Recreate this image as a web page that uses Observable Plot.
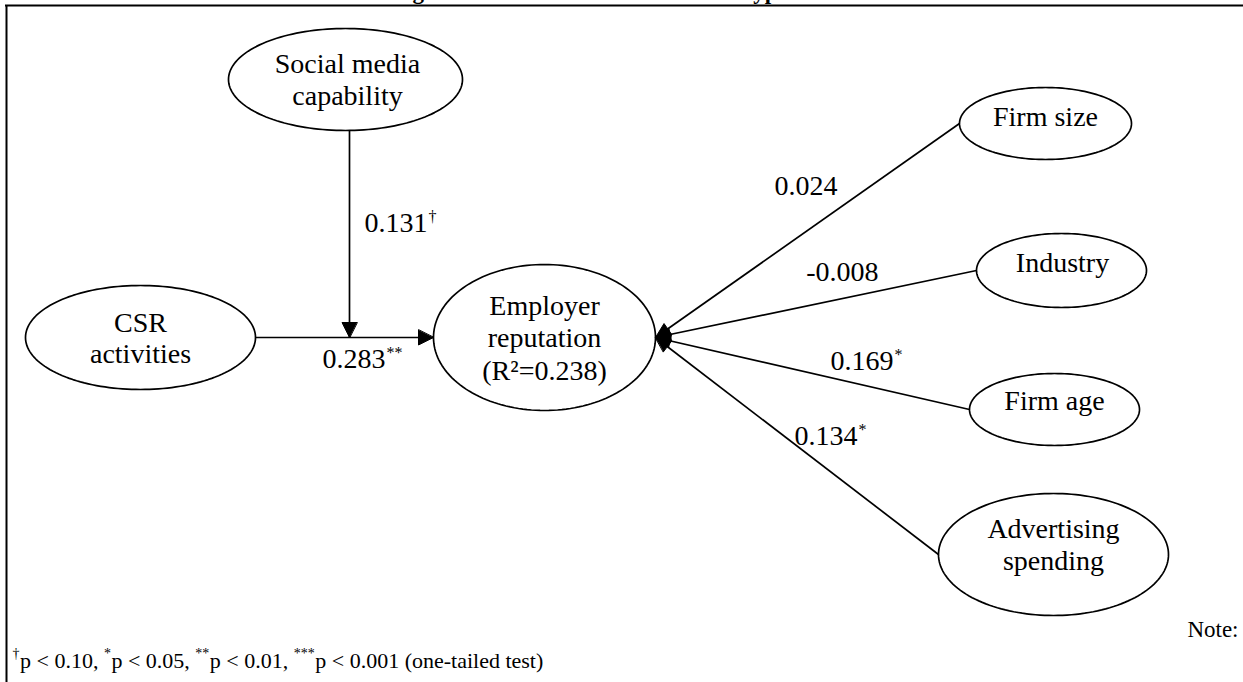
<!DOCTYPE html>
<html>
<head>
<meta charset="utf-8">
<script src="https://cdn.jsdelivr.net/npm/d3@7"></script>
<script src="https://cdn.jsdelivr.net/npm/@observablehq/plot@0.6"></script>
<style>
  body { margin: 0; background: #fff; }
  #chart svg { display: block; background: #fff; }
</style>
</head>
<body>
<div id="chart"></div>
<script>
// ---------- DATA ----------
const title = "Figure 2. Results of the Model and Hypotheses";
const nodeNames = ["Social media capability", "CSR activities", "Employer reputation",
                   "Firm size", "Industry", "Firm age", "Advertising spending"];
const nodeLabelLines = [["Social media", "capability"], ["CSR", "activities"],
                        ["Employer", "reputation", "(R²=0.238)"], ["Firm size"], ["Industry"],
                        ["Firm age"], ["Advertising", "spending"]];
const pathNames = ["moderation", "CSR activities", "Firm size", "Industry", "Firm age", "Advertising spending"];
const pathCoefficients = ["0.131", "0.283", "0.024", "-0.008", "0.169", "0.134"];
const pathSignificance = ["†", "**", "", "", "*", "*"];
const sigSymbols = ["†", "*", "**", "***"];
const sigLevels = ["0.10", "0.05", "0.01", "0.001"];
const testNote = "(one-tailed test)";
const noteLabel = "Note:";

// ---------- LAYOUT (positions / sizes) ----------
const FONT = "Liberation Serif, Times New Roman, serif";
const nodeLayout = {
  "Social media capability": {cx: 345, cy: 79, rx: 117, ry: 51, x: 347, baselines: [72, 104]},
  "CSR activities":          {cx: 140, cy: 337, rx: 115, ry: 52, x: 140, baselines: [331, 362]},
  "Employer reputation":     {cx: 544, cy: 337, rx: 111, ry: 73, x: 544, baselines: [314, 346, 379]},
  "Firm size":               {cx: 1045, cy: 123, rx: 86, ry: 36, x: 1045, baselines: [125]},
  "Industry":                {cx: 1061, cy: 270, rx: 85, ry: 37, x: 1062, baselines: [271]},
  "Firm age":                {cx: 1054, cy: 409, rx: 85, ry: 36, x: 1054, baselines: [409]},
  "Advertising spending":    {cx: 1053, cy: 554, rx: 115, ry: 61, x: 1053, baselines: [537, 569]}
};
const modX = 349;            // x of the moderating arrow
const labelLayout = {        // end of number (x) and baseline (y)
  "moderation": [427, 231],
  "CSR activities": [385, 367],
  "Firm size": [837, 194],
  "Industry": [878, 280],
  "Firm age": [893, 369],
  "Advertising spending": [857, 444]
};
const frame = {left: 6, top: 5, right: 1243, bottom: 682};
const W = 1243, H = 682;

// ---------- GEOMETRY ----------
const N = (name) => nodeLayout[name];
const emp = N("Employer reputation");
const tip = {x: emp.cx + emp.rx, y: emp.cy};

const ellipsePts = nodeNames.flatMap(name => {
  const n = N(name);
  return d3.range(0, 160).map(i => {
    const t = i / 160 * 2 * Math.PI;
    return {name, x: n.cx + n.rx * Math.cos(t), y: n.cy + n.ry * Math.sin(t)};
  });
});

const links = pathNames.map(name => {
  if (name === "moderation") {
    const s = N("Social media capability");
    return {name, x1: modX, y1: s.cy + s.ry, x2: modX, y2: N("CSR activities").cy};
  }
  if (name === "CSR activities") {
    const c = N(name);
    return {name, x1: c.cx + c.rx, y1: c.cy, x2: emp.cx - emp.rx, y2: emp.cy};
  }
  const c = N(name);
  return {name, x1: c.cx - c.rx, y1: c.cy, x2: tip.x, y2: tip.y};
});

const HEAD_L = 15, HEAD_W = 6.5;
const heads = links.flatMap(l => {
  const dx = l.x2 - l.x1, dy = l.y2 - l.y1, len = Math.hypot(dx, dy);
  const ux = dx / len, uy = dy / len;
  const bx = l.x2 - HEAD_L * ux, by = l.y2 - HEAD_L * uy;
  const w = l.name === "moderation" || l.name === "CSR activities" ? 7.5 : HEAD_W;
  return [
    {id: l.name, x: l.x2, y: l.y2},
    {id: l.name, x: bx - w * uy, y: by + w * ux},
    {id: l.name, x: bx + w * uy, y: by - w * ux}
  ];
});

const nodeTexts = nodeNames.flatMap((name, i) =>
  nodeLabelLines[i].map((line, j) => ({text: line, x: N(name).x, y: N(name).baselines[j]})));

const coefTexts = pathNames.map((name, i) => ({
  text: pathCoefficients[i], sup: pathSignificance[i],
  x: labelLayout[name][0], y: labelLayout[name][1]
}));

// text measurement
const ctx = document.createElement("canvas").getContext("2d");

// title: place so that the "g" of "Figure" starts at x = 412
const TITLE_SIZE = 23;
ctx.font = `bold ${TITLE_SIZE}px ${FONT}`;
const titleX = 412 - ctx.measureText("Fi").width;

// footnote segments
const FOOT_SIZE = 22, SUP_SIZE = 14;
const footMain = [], footSup = [];
let cursor = 12;
const footBaseline = 667;
sigSymbols.forEach((sym, i) => {
  ctx.font = `${SUP_SIZE}px ${FONT}`;
  footSup.push({text: sym, x: cursor, y: footBaseline - 10});
  cursor += ctx.measureText(sym).width + 0.5;
  const t = "p < " + sigLevels[i] + (i < sigSymbols.length - 1 ? ", " : " " + testNote);
  ctx.font = `${FOOT_SIZE}px ${FONT}`;
  footMain.push({text: t, x: cursor, y: footBaseline});
  cursor += ctx.measureText(t).width;
});

// ---------- PLOT ----------
const textStyle = {fontFamily: FONT, fill: "black", lineAnchor: "bottom"};
const chart = Plot.plot({
  width: W, height: H, margin: 0,
  x: {domain: [0, W], range: [0, W]},
  y: {domain: [0, H], range: [0, H]},
  axis: null,
  style: {background: "#fff"},
  marks: [
    // clipped title (only its descenders reach into the page)
    Plot.text([{text: title, x: titleX, y: -1.5}], {x: "x", y: "y", text: "text", ...textStyle,
      textAnchor: "start", fontSize: TITLE_SIZE, fontWeight: "bold"}),
    // frame
    Plot.ruleY([frame.top], {x1: frame.left - 1, x2: frame.right, stroke: "black", strokeWidth: 2}),
    Plot.ruleX([frame.left], {y1: frame.top, y2: frame.bottom, stroke: "black", strokeWidth: 2}),
    // ellipses
    Plot.line(ellipsePts, {x: "x", y: "y", z: "name", curve: "linear-closed",
      stroke: "black", strokeWidth: 1.7}),
    // paths
    Plot.link(links, {x1: "x1", y1: "y1", x2: "x2", y2: "y2", stroke: "black", strokeWidth: 1.7}),
    Plot.line(heads, {x: "x", y: "y", z: "id", curve: "linear-closed",
      fill: "black", stroke: "black", strokeWidth: 1}),
    // node labels
    Plot.text(nodeTexts, {x: "x", y: "y", text: "text", ...textStyle, fontSize: 28}),
    // coefficients
    Plot.text(coefTexts, {x: "x", y: "y", text: "text", ...textStyle, fontSize: 28, textAnchor: "end"}),
    Plot.text(coefTexts.filter(d => d.sup), {x: "x", y: d => d.y - 10, text: "sup", ...textStyle,
      fontSize: 16, textAnchor: "start", dx: 1}),
    // note
    Plot.text([{text: noteLabel, x: 1238, y: 636}], {x: "x", y: "y", text: "text", ...textStyle,
      fontSize: 23, textAnchor: "end"}),
    Plot.text(footSup, {x: "x", y: "y", text: "text", ...textStyle, fontSize: SUP_SIZE, textAnchor: "start"}),
    Plot.text(footMain, {x: "x", y: "y", text: "text", ...textStyle, fontSize: FOOT_SIZE, textAnchor: "start"})
  ]
});
document.getElementById("chart").appendChild(chart);
</script>
</body>
</html>
